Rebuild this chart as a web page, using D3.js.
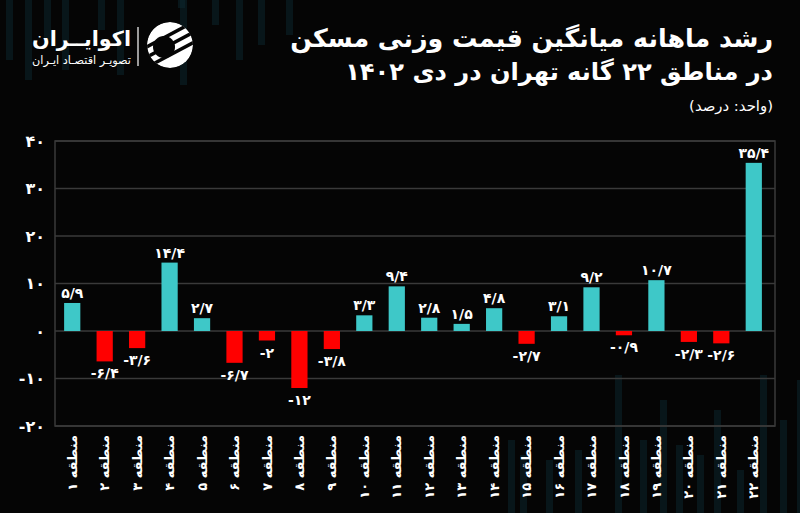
<!DOCTYPE html>
<html>
<head>
<meta charset="utf-8">
<script src="https://cdn.jsdelivr.net/npm/d3@7"></script>
<style>
  html, body { margin: 0; padding: 0; background: #050505; }
  svg { display: block; }
  text { font-family: "DejaVu Sans", sans-serif; fill: #fff; }
</style>
</head>
<body>
<div id="chart"></div>
<script>
// data
const regions = ['منطقه ۱', 'منطقه ۲', 'منطقه ۳', 'منطقه ۴', 'منطقه ۵', 'منطقه ۶', 'منطقه ۷', 'منطقه ۸',
  'منطقه ۹', 'منطقه ۱۰', 'منطقه ۱۱', 'منطقه ۱۲', 'منطقه ۱۳', 'منطقه ۱۴', 'منطقه ۱۵', 'منطقه ۱۶',
  'منطقه ۱۷', 'منطقه ۱۸', 'منطقه ۱۹', 'منطقه ۲۰', 'منطقه ۲۱', 'منطقه ۲۲'];
const growth = [5.9, -6.4, -3.6, 14.4, 2.7, -6.7, -2, -12, -3.8, 3.3, 9.4, 2.8, 1.5, 4.8, -2.7, 3.1,
  9.2, -0.9, 10.7, -2.3, -2.6, 35.4];
const yTicks = [-20, -10, 0, 10, 20, 30, 40];

const titleLines = ['رشد ماهانه میانگین قیمت وزنی مسکن', 'در مناطق ۲۲ گانه تهران در دی ۱۴۰۲'];
const unitLabel = '(واحد: درصد)';

const width = 800, height = 513;
const plot = { left: 55, right: 775, top: 141, bottom: 426 };

const faDigits = '۰۱۲۳۴۵۶۷۸۹';
const toFa = v => (v < 0 ? '-' : '') +
  String(Math.abs(v)).replace('.', '/').replace(/[0-9]/g, d => faDigits[+d]);

const svg = d3.select('#chart').append('svg')
  .attr('width', width)
  .attr('height', height);

svg.append('rect')
  .attr('width', width)
  .attr('height', height)
  .attr('fill', '#050505');

// faint background stripes (decoration only)
const deco = [
  [6, 0, 60], [25, 0, 80], [44, 0, 40], [62, 0, 70], [98, 0, 30], [117, 0, 75], [180, 0, 85],
  [212, 0, 25], [236, 0, 60], [258, 0, 45], [286, 0, 35], [178, 0, 8],
  [508, 440, 513], [520, 455, 513], [546, 460, 513], [575, 450, 513], [615, 375, 513],
  [640, 440, 513], [660, 400, 513], [676, 445, 513], [697, 455, 513], [714, 410, 513],
  [737, 470, 513], [760, 375, 513], [780, 420, 513], [797, 380, 513]
];
svg.append('g')
  .selectAll('rect')
  .data(deco)
  .join('rect')
  .attr('x', d => d[0])
  .attr('y', d => d[1])
  .attr('width', 7)
  .attr('height', d => d[2] - d[1])
  .attr('fill', '#0c2730')
  .attr('opacity', 0.5);

const x = d3.scaleBand()
  .domain(regions)
  .range([56, 770])
  .paddingInner(0.5)
  .paddingOuter(0.25);

const y = d3.scaleLinear()
  .domain([-20, 40])
  .range([plot.bottom, plot.top]);

// gridlines
svg.append('g')
  .selectAll('line')
  .data(yTicks)
  .join('line')
  .attr('x1', plot.left)
  .attr('x2', plot.right)
  .attr('y1', d => y(d))
  .attr('y2', d => y(d))
  .attr('stroke', '#3a3a3a')
  .attr('stroke-width', 1.5);

// frame
svg.append('rect')
  .attr('x', plot.left)
  .attr('y', plot.top)
  .attr('width', plot.right - plot.left)
  .attr('height', plot.bottom - plot.top)
  .attr('fill', 'none')
  .attr('stroke', '#3a3a3a')
  .attr('stroke-width', 1.5);

// y axis labels
const yAxis = svg.append('g')
  .attr('transform', `translate(${plot.left - 10},0)`)
  .call(d3.axisLeft(y).tickValues(yTicks).tickSize(0).tickFormat(toFa));
yAxis.select('.domain').remove();
yAxis.selectAll('text')
  .attr('x', 0)
  .attr('fill', '#fff')
  .style('font-size', '16px')
  .style('font-weight', 'bold')
  .style('font-family', '"DejaVu Sans", sans-serif');

// bars
const rows = regions.map((r, i) => ({ region: r, value: growth[i] }));

svg.append('g')
  .selectAll('rect')
  .data(rows)
  .join('rect')
  .attr('x', d => x(d.region))
  .attr('width', x.bandwidth())
  .attr('y', d => y(Math.max(0, d.value)))
  .attr('height', d => Math.abs(y(d.value) - y(0)))
  .attr('fill', d => d.value >= 0 ? '#3ec8c8' : '#ff0000');

// value labels
svg.append('g')
  .selectAll('text')
  .data(rows)
  .join('text')
  .attr('x', d => x(d.region) + x.bandwidth() / 2)
  .attr('y', d => d.value >= 0 ? y(d.value) - 5 : y(d.value) + 17)
  .attr('text-anchor', 'middle')
  .style('font-size', '14px')
  .style('font-weight', 'bold')
  .text(d => toFa(d.value));

// x labels, rotated
svg.append('g')
  .selectAll('text')
  .data(regions)
  .join('text')
  .attr('transform', d => `translate(${x(d) + x.bandwidth() / 2},435) rotate(-90)`)
  .attr('text-anchor', 'end')
  .attr('dy', '0.35em')
  .style('font-size', '13px')
  .style('font-weight', 'bold')
  .text(d => d);

// fit a text element to a target width
function fitWidth(sel, target) {
  const fs = parseFloat(sel.style('font-size'));
  const w = sel.node().getComputedTextLength();
  sel.style('font-size', (fs * target / w) + 'px');
}

// title
const t1 = svg.append('text')
  .attr('x', 773).attr('y', 47)
  .attr('text-anchor', 'end')
  .style('font-size', '24px')
  .style('font-weight', 'bold')
  .text(titleLines[0]);
fitWidth(t1, 483);

const t2 = svg.append('text')
  .attr('x', 773).attr('y', 80)
  .attr('text-anchor', 'end')
  .style('font-size', '24px')
  .style('font-weight', 'bold')
  .text(titleLines[1]);
fitWidth(t2, 428);

const t3 = svg.append('text')
  .attr('x', 773).attr('y', 111)
  .attr('text-anchor', 'end')
  .style('font-size', '13px')
  .text(unitLabel);
fitWidth(t3, 84);

// logo
const logo = svg.append('g');
const brand = logo.append('text')
  .attr('x', 131).attr('y', 46)
  .attr('text-anchor', 'end')
  .style('font-size', '24px')
  .style('font-weight', 'bold')
  .text('اکوایــران');
fitWidth(brand, 99);

const tagline = logo.append('text')
  .attr('x', 131).attr('y', 64)
  .attr('text-anchor', 'end')
  .style('font-size', '11px')
  .attr('fill', '#ddd')
  .text('تصویـر اقتصـاد ایـران');
fitWidth(tagline, 99);

logo.append('line')
  .attr('x1', 138).attr('x2', 138)
  .attr('y1', 27).attr('y2', 66)
  .attr('stroke', '#fff')
  .attr('stroke-width', 1.2);

const defs = svg.append('defs');
defs.append('clipPath').attr('id', 'logo-clip')
  .append('circle')
  .attr('cx', 170).attr('cy', 45).attr('r', 23);

const icon = logo.append('g').attr('clip-path', 'url(#logo-clip)');
icon.append('circle')
  .attr('cx', 170).attr('cy', 45).attr('r', 23)
  .attr('fill', '#fff');
icon.selectAll('rect.gap')
  .data([-9, 0, 9])
  .join('rect')
  .attr('class', 'gap')
  .attr('x', 140).attr('width', 60)
  .attr('y', d => 45 + d - 2).attr('height', 3.5)
  .attr('fill', '#050505')
  .attr('transform', 'rotate(-28,170,45)');
icon.append('circle')
  .attr('cx', 164).attr('cy', 47).attr('r', 11)
  .attr('fill', '#050505');
</script>
</body>
</html>
